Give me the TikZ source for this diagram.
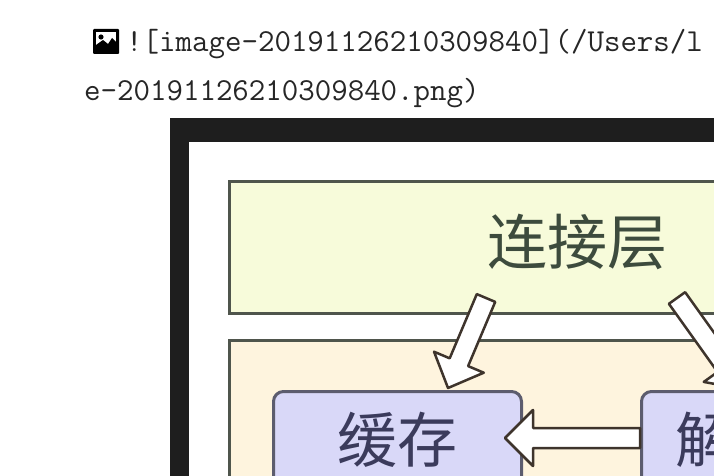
\documentclass[tikz,border=0pt]{standalone}
\usepackage{fontspec}
\newfontfamily\cjk{Noto Sans CJK SC}
\usetikzlibrary{calc}
\definecolor{frameblack}{HTML}{1E1E1E}
\definecolor{yellowfill}{HTML}{F7FBDA}
\definecolor{orangefill}{HTML}{FEF4DE}
\definecolor{bluefill}{HTML}{D9D8F8}
\definecolor{boxline}{HTML}{4F554C}
\definecolor{blueline}{HTML}{5C5C6E}
\definecolor{arrowline}{HTML}{3E342C}
\definecolor{greentext}{HTML}{3D4B3D}
\definecolor{bluetext}{HTML}{3B3B5C}
\definecolor{mdtext}{HTML}{262626}
\tikzset{
  layerbox/.style={draw=boxline, line width=3pt, anchor=north west, inner sep=0, rectangle},
  modbox/.style={draw=blueline, fill=bluefill, line width=3pt, rounded corners=10pt, anchor=north west, inner sep=0, rectangle},
  bigcn/.style={font=\cjk\fontsize{60}{60}\selectfont, inner sep=0},
  mdline/.style={anchor=base west, inner sep=0, text=mdtext, font=\ttfamily\fontsize{32}{32}\selectfont},
  blockarrow/.style={draw=arrowline, fill=white, line width=2.5pt, line join=round}
}
\newcommand\blockarr[5]{%
  \coordinate (ba-h) at ($(#2)!#5!(#1)$);
  \filldraw[blockarrow] ($(#1)!#3!90:(#2)$) -- ($(ba-h)!#3!-90:(#1)$) -- ($(ba-h)!#4!-90:(#1)$) -- (#2) -- ($(ba-h)!#4!90:(#1)$) -- ($(ba-h)!#3!90:(#1)$) -- ($(#1)!#3!-90:(#2)$) -- cycle;}
\begin{document}
\begin{tikzpicture}[x=1pt,y=-1pt]
\useasboundingbox (0,0) rectangle (714,476);
\clip (0,0) rectangle (714,476);
\fill[white] (0,0) rectangle (714,476);
% image icon
\fill[black, rounded corners=1pt] (93,29) rectangle (119,54);
\fill[white] (96,32) rectangle (116,47);
\fill[black] (101,37) circle (2.6pt);
\fill[black] (96,48) -- (96,45) -- (103,40) -- (108,44) -- (112,38) -- (116,42) -- (116,48) -- cycle;
% markdown text
\node[mdline] (line1) at (126,52) {![image-20191126210309840](/Users/l};
\node[mdline] (line2) at (84,101) {e-20191126210309840.png)};
% screenshot frame
\fill[frameblack] (170,118) rectangle (760,520);
\fill[white] (189,142) rectangle (760,520);
% layers
\node[layerbox, fill=yellowfill, minimum width=700pt, minimum height=132pt] (conn) at (228,180) {};
\node[bigcn, text=greentext] (conntext) at (577,242) {连接层};
\node[layerbox, fill=orangefill, minimum width=700pt, minimum height=200pt] (service) at (228,339) {};
\node[modbox, minimum width=248pt, minimum height=130pt] (cache) at (272,390) {};
\node[bigcn, text=bluetext] (cachetext) at (397,440) {缓存};
\node[modbox, minimum width=248pt, minimum height=130pt] (parser) at (640,390) {};
\node[bigcn, text=bluetext, anchor=west] (parsertext) at (675,440) {解};
% arrows
\coordinate (a1s) at (486,298);
\coordinate (a1e) at (448,388);
\blockarr{a1s}{a1e}{10pt}{27pt}{28pt}
\coordinate (a2s) at (677,298);
\coordinate (a2e) at (742,389);
\blockarr{a2s}{a2e}{10pt}{27pt}{28pt}
\coordinate (a3s) at (parser.west |- 0,438);
\coordinate (a3e) at (505,438);
\blockarr{a3s}{a3e}{10pt}{28pt}{28pt}
\end{tikzpicture}
\end{document}
